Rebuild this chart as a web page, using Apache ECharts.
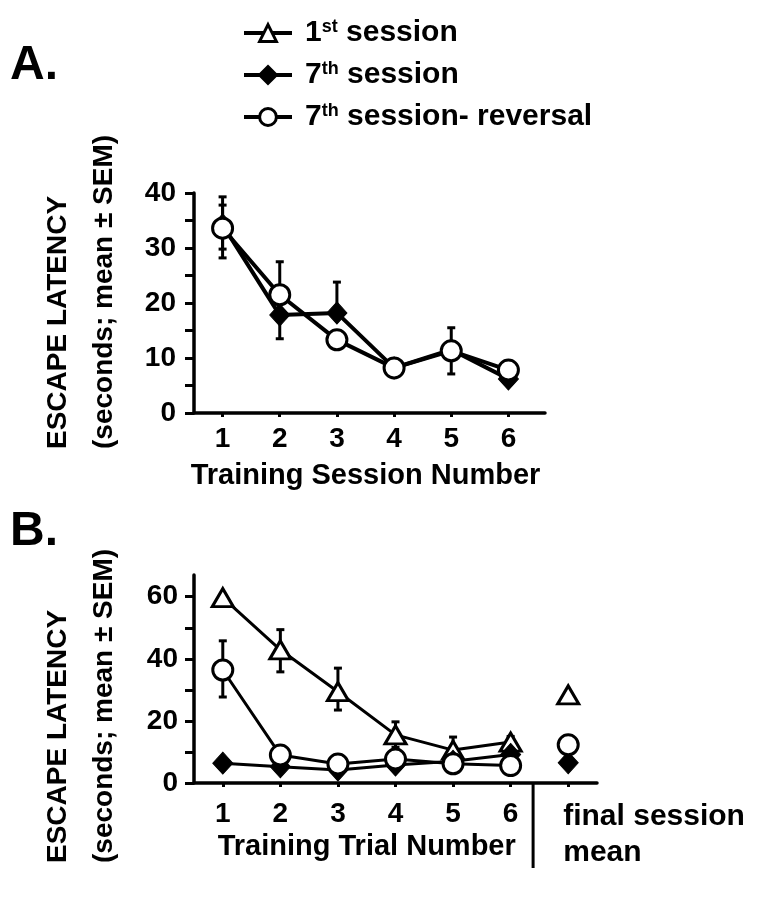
<!DOCTYPE html>
<html><head><meta charset="utf-8">
<script src="https://cdn.jsdelivr.net/npm/echarts@6/dist/echarts.min.js"></script>
<style>html,body{margin:0;padding:0;background:#fff}#c{width:758px;height:899px}</style>
</head><body><div id="c"></div>
<script>
// ---------- DATA ----------
const seriesNames = ['1st session', '7th session', '7th session- reversal'];
// Panel A: training session number
const sessionsA = [1, 2, 3, 4, 5, 6];
const a7th = [34.2, 17.8, 18.2, 8.2, 11.5, 6.2];
const a7thRev = [33.6, 21.5, 13.3, 8.2, 11.3, 7.8];
// error bars A: [x, low, high]
const errA = [[1, 28.2, 39.3], [1, 29.8, 37.8], [2, 21.5, 27.5], [2, 13.5, 17.8], [3, 18.2, 23.8], [5, 7.1, 15.5]];
// Panel B: training trial number, x=7 is final session mean
const trialsB = [1, 2, 3, 4, 5, 6];
const b1st = [59.7, 42.9, 29.4, 15.5, 10.6, 13.2];
const b7th = [6.4, 5.2, 4.2, 5.8, 7.0, 9.2];
const b7thRev = [36.4, 9.0, 6.1, 7.7, 6.2, 5.6];
const finalX = 7;
const finalMean = { '1st session': 28.4, '7th session': 6.5, '7th session- reversal': 12.3 };
const errB = [[2, 35.8, 49.4], [3, 23.5, 37.0], [4, 11.5, 19.7], [5, 7.0, 14.8], [6, 11.5, 15.0], [1, 27.7, 45.8]];
const separatorX = 6.39;
const yTicksA = [0, 5, 10, 15, 20, 25, 30, 35, 40];
const yLabelsA = [0, 10, 20, 30, 40];
const yTicksB = [0, 10, 20, 30, 40, 50, 60];
const yLabelsB = [0, 20, 40, 60];

// ---------- CHART ----------
const FONT = '"Liberation Sans", Arial, sans-serif';
const chart = echarts.init(document.getElementById('c'), null, { renderer: 'canvas' });
const pairs = (xs, ys) => xs.map((x, i) => [x, ys[i]]);
const black = '#000';

function errSeries(data, xi, yi) {
  return {
    type: 'custom', xAxisIndex: xi, yAxisIndex: yi, z: 1, silent: true,
    data: data,
    renderItem: (params, api) => {
      const x = api.value(0), lo = api.value(1), hi = api.value(2);
      const p1 = api.coord([x, lo]), p2 = api.coord([x, hi]);
      const w = 4;
      const st = { stroke: black, lineWidth: 3 };
      return { type: 'group', children: [
        { type: 'line', shape: { x1: p1[0], y1: p1[1], x2: p2[0], y2: p2[1] }, style: st },
        { type: 'line', shape: { x1: p1[0] - w, y1: p1[1], x2: p1[0] + w, y2: p1[1] }, style: st },
        { type: 'line', shape: { x1: p2[0] - w, y1: p2[1], x2: p2[0] + w, y2: p2[1] }, style: st }
      ]};
    }
  };
}

const styles = {
  '1st session': { symbol: 'triangle', symbolSize: [21, 18], itemStyle: { color: '#fff', borderColor: black, borderWidth: 3 } },
  '7th session': { symbol: 'diamond', symbolSize: [20, 22], itemStyle: { color: black, borderColor: black, borderWidth: 1 } },
  '7th session- reversal': { symbol: 'circle', symbolSize: 20, itemStyle: { color: '#fff', borderColor: black, borderWidth: 3 } }
};

function lineSeries(name, data, xi, yi, lw) {
  return Object.assign({
    type: 'line', name: name, xAxisIndex: xi, yAxisIndex: yi, data: data,
    lineStyle: { color: black, width: lw }, z: 3, showAllSymbol: true, animation: false
  }, JSON.parse(JSON.stringify(styles[name])));
}
function pointSeries(name, value) {
  const s = lineSeries(name, [[finalX, value]], 1, 1, 0);
  s.lineStyle = { width: 0 };
  s.z = 4;
  return s;
}

const axisLine = { show: true, lineStyle: { color: black, width: 3.5 } };
const tickLabel = { color: black, fontFamily: FONT, fontWeight: 'bold', fontSize: 28 };

const option = {
  animation: false,
  backgroundColor: '#fff',
  legend: {
    orient: 'vertical', left: 237, top: 13, itemWidth: 48, itemHeight: 21, itemGap: 12,
    data: seriesNames, selectedMode: false,
    lineStyle: { width: 4, color: black },
    itemStyle: { borderWidth: 3, borderColor: black },
    textStyle: { color: black, fontFamily: FONT, fontWeight: 'bold', fontSize: 30, lineHeight: 30, padding: [0, 0, 0, 8],
      rich: {
        n: { fontFamily: FONT, fontWeight: 'bold', fontSize: 30, color: black, lineHeight: 30 },
        s: { fontFamily: FONT, fontWeight: 'bold', fontSize: 18, color: black, verticalAlign: 'top', lineHeight: 30, padding: [0, 0, 12, 0] }
      } },
    formatter: name => {
      const m = name.match(/^(\d)(st|th)(.*)$/);
      return '{n|' + m[1] + '}{s|' + m[2] + '}{n|' + m[3] + '}';
    }
  },
  grid: [
    { left: 194, top: 193, width: 351, height: 220 },
    { left: 194, top: 575, width: 403, height: 208 }
  ],
  xAxis: [
    { type: 'value', gridIndex: 0, min: 0.5, max: 6.64, splitLine: { show: false }, axisLine: axisLine,
      axisTick: { show: true, customValues: sessionsA, length: 4, lineStyle: { color: black, width: 3 } },
      axisLabel: Object.assign({ customValues: sessionsA, margin: 12 }, tickLabel) },
    { type: 'value', gridIndex: 1, min: 0.5, max: 7.5, splitLine: { show: false }, axisLine: axisLine,
      axisTick: { show: true, customValues: trialsB.concat([finalX]), length: 4, lineStyle: { color: black, width: 3 } },
      axisLabel: Object.assign({ customValues: trialsB, margin: 17 }, tickLabel) }
  ],
  yAxis: [
    { type: 'value', gridIndex: 0, min: 0, max: 40, splitLine: { show: false }, axisLine: axisLine,
      axisTick: { show: true, customValues: yTicksA, length: 9, lineStyle: { color: black, width: 3 } },
      axisLabel: Object.assign({ customValues: yLabelsA, margin: 18 }, tickLabel) },
    { type: 'value', gridIndex: 1, min: 0, max: 67, splitLine: { show: false }, axisLine: axisLine,
      axisTick: { show: true, customValues: yTicksB, length: 9, lineStyle: { color: black, width: 3 } },
      axisLabel: Object.assign({ customValues: yLabelsB, margin: 16 }, tickLabel) }
  ],
  series: [
    errSeries(errA, 0, 0),
    lineSeries('7th session', pairs(sessionsA, a7th), 0, 0, 4),
    lineSeries('7th session- reversal', pairs(sessionsA, a7thRev), 0, 0, 4),
    errSeries(errB, 1, 1),
    lineSeries('1st session', pairs(trialsB, b1st), 1, 1, 3),
    lineSeries('7th session', pairs(trialsB, b7th), 1, 1, 3),
    lineSeries('7th session- reversal', pairs(trialsB, b7thRev), 1, 1, 3),
    pointSeries('1st session', finalMean['1st session']),
    pointSeries('7th session', finalMean['7th session']),
    pointSeries('7th session- reversal', finalMean['7th session- reversal'])
  ]
};
chart.setOption(option);

// ---------- TEXT / DECORATION ----------
const bold = (size) => 'bold ' + size + 'px ' + FONT;
const sep0 = chart.convertToPixel({ xAxisIndex: 1, yAxisIndex: 1 }, [separatorX, 0]);
const fin = chart.convertToPixel({ xAxisIndex: 1, yAxisIndex: 1 }, [finalX, 0]);
const midA = chart.convertToPixel({ xAxisIndex: 0, yAxisIndex: 0 }, [3.5, 0]);
const midB = chart.convertToPixel({ xAxisIndex: 1, yAxisIndex: 1 }, [3.5, 0]);
function yTitle(x, yStart, text) {
  return { type: 'text', x: x, y: yStart, rotation: Math.PI / 2,
    style: { text: text, font: bold(28), fill: black, align: 'left', verticalAlign: 'middle' } };
}
chart.setOption({
  graphic: [
    { type: 'text', x: 10, y: 42, style: { text: 'A.', font: bold(48), fill: black } },
    { type: 'text', x: 10, y: 508, style: { text: 'B.', font: bold(48), fill: black } },
    yTitle(58, 449, 'ESCAPE LATENCY'),
    yTitle(104, 449, '(seconds; mean \u00B1 SEM)'),
    yTitle(58, 863, 'ESCAPE LATENCY'),
    yTitle(104, 863, '(seconds; mean \u00B1 SEM)'),
    { type: 'text', x: midA[0], y: midA[1] + 63, style: { text: 'Training Session Number', font: bold(29), fill: black, align: 'center', verticalAlign: 'middle' } },
    { type: 'text', x: midB[0], y: midB[1] + 64, style: { text: 'Training Trial Number', font: bold(29), fill: black, align: 'center', verticalAlign: 'middle' } },
    { type: 'line', shape: { x1: sep0[0], y1: sep0[1], x2: sep0[0], y2: sep0[1] + 85 }, style: { stroke: black, lineWidth: 3 } },
    { type: 'text', x: fin[0] - 5, y: fin[1] + 34, style: { text: 'final session', font: bold(30), fill: black, align: 'left', verticalAlign: 'middle' } },
    { type: 'text', x: fin[0] - 5, y: fin[1] + 70, style: { text: 'mean', font: bold(30), fill: black, align: 'left', verticalAlign: 'middle' } }
  ]
});
</script></body></html>
